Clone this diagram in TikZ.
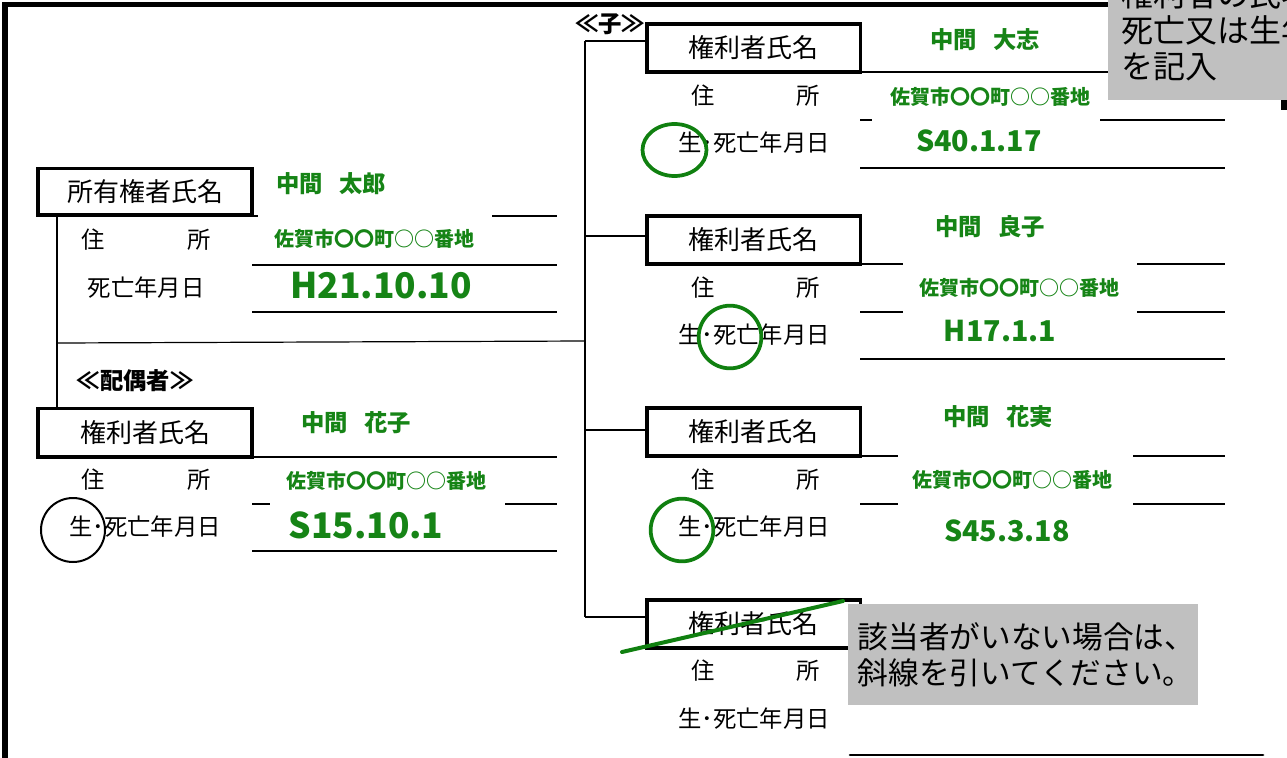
\documentclass[tikz,border=0pt]{standalone}
\usepackage{fontspec}
\setmainfont{Noto Sans CJK JP}
\definecolor{namegreen}{RGB}{22,132,22}
\definecolor{markgreen}{RGB}{16,128,16}
\definecolor{notegray}{RGB}{192,192,192}
\begin{document}
\begin{tikzpicture}[x=0.75pt,y=-0.75pt,
    namebox/.style={draw,line width=2.5pt,minimum width=160pt,minimum height=36pt,inner sep=0pt,font=\fontsize{19.5}{21}\selectfont},
    item/.style={inner sep=0pt,font=\fontsize{17.5}{19}\selectfont},
    val/.style={inner sep=0pt,text=namegreen,font=\bfseries\fontsize{17.5}{19}\selectfont},
    addr/.style={inner sep=0pt,text=namegreen,font=\bfseries\fontsize{15}{17}\selectfont},
    bigdate/.style={inner sep=0pt,text=namegreen,font=\bfseries\fontsize{26.5}{28}\selectfont},
    smalldate/.style={inner sep=0pt,text=namegreen,font=\bfseries\fontsize{21.5}{23}\selectfont},
    formline/.style={line width=0.9pt},
    frame/.style={line width=4pt},
    circlemark/.style={draw=markgreen,line width=2.8pt},
    notetext/.style={inner sep=0pt,align=left,font=\fontsize{23}{27}\selectfont}]
  \useasboundingbox (0,0) rectangle (1287,757);
  \clip (0,0) rectangle (1287,757);
  % outer frame
  \draw[frame] (5,760) -- (5,4.5) -- (1110,4.5);
  \draw[frame] (1284,100) -- (1284,110);
  % owner
  \node[namebox,minimum width=160.5pt,minimum height=35pt] (owner) at (145,191.5) {所有権者氏名};
  \node[val] (ownername) at (331,184) {中間\hspace{.7em}太郎};
  \node[item] (ownerju) at (93,240) {住};
  \node[item] (ownersho) at (199,240) {所};
  \node[addr] (owneraddr) at (374,239) {佐賀市〇〇町○○番地};
  \node[item] (ownerdd) at (146,288) {死亡年月日};
  \node[bigdate] (ownerdate) at (381,286) {H21.10.10};
  \draw[formline] (252,216) -- (258,216);
  \draw[formline] (492,216) -- (557,216);
  \draw[formline] (252,265) -- (557,265);
  \draw[formline] (252,312) -- (557,312);
  % spouse
  \node[inner sep=0pt,font=\bfseries\fontsize{17.5}{19}\selectfont] (spouselabel) at (135,381) {≪配偶者≫};
  \node[namebox,minimum width=160.5pt,minimum height=36.5pt] (spouse) at (145,432.5) {権利者氏名};
  \node[val] (spousename) at (356,423) {中間\hspace{.7em}花子};
  \node[item] (spouseju) at (93,480) {住};
  \node[item] (spousesho) at (199,480) {所};
  \node[addr] (spouseaddr) at (386,481) {佐賀市〇〇町○○番地};
  \node[item] (spousedd) at (145,527) {生･死亡年月日};
  \node[bigdate] (spousedate) at (366,525) {S15.10.1};
  \draw[line width=1.5pt] (73,530) circle [radius=24pt];
  \draw[formline] (252,457) -- (557,457);
  \draw[formline] (252,504) -- (270,504);
  \draw[formline] (505,504) -- (557,504);
  \draw[formline] (252,551) -- (557,551);
  % family lines
  \coordinate (ownerfoot) at (57,216);
  \coordinate (spousejoin) at (57,343);
  \coordinate (kidjoin) at (585,341);
  \coordinate (kidtop) at (585,41);
  \coordinate (kidbot) at (585,617);
  \coordinate (k2) at (585,236);
  \coordinate (k3) at (585,430);
  \draw[formline] (ownerfoot) -- (ownerfoot |- spouse.north);
  \draw[formline] (spousejoin) -- (kidjoin);
  \draw[formline] (kidtop) -- (kidbot);
  % children
  \node[inner sep=0pt,font=\bfseries\fontsize{17.5}{19}\selectfont] (kidlabel) at (610,24) {≪子≫};
  \node[namebox] (kid1) at (753.5,48) {権利者氏名};
  \node[namebox] (kid2) at (753.5,240) {権利者氏名};
  \node[namebox] (kid3) at (753.5,432) {権利者氏名};
  \node[namebox] (kid4) at (753.5,624) {権利者氏名};
  \draw[formline] (kidtop) -- (kidtop -| kid1.west);
  \draw[formline] (k2) -- (k2 -| kid2.west);
  \draw[formline] (k3) -- (k3 -| kid3.west);
  \draw[formline] (kidbot) -- (kidbot -| kid4.west);
  % child 1
  \node[val] (kid1name) at (985,40) {中間\hspace{.7em}大志};
  \node[item] (kid1ju) at (703,96) {住};
  \node[item] (kid1sho) at (808,96) {所};
  \node[addr] (kid1addr) at (990,97) {佐賀市〇〇町○○番地};
  \node[item] (kid1dd) at (754,143) {生･死亡年月日};
  \node[smalldate] (kid1date) at (979,141) {S40.1.17};
  \draw[circlemark] (674.5,150) ellipse [x radius=24pt,y radius=19.5pt];
  \draw[formline] (860,72) -- (1225,72);
  \draw[formline] (860,120) -- (872,120);
  \draw[formline] (1100,120) -- (1225,120);
  \draw[formline] (860,168) -- (1225,168);
  % child 2
  \node[val] (kid2name) at (990,227) {中間\hspace{.7em}良子};
  \node[item] (kid2ju) at (703,288) {住};
  \node[item] (kid2sho) at (808,288) {所};
  \node[addr] (kid2addr) at (1019,288) {佐賀市〇〇町○○番地};
  \node[item] (kid2dd) at (754,335) {生･死亡年月日};
  \node[smalldate] (kid2date) at (1000,331) {H17.1.1};
  \draw[circlemark] (730,337) circle [radius=23.5pt];
  \draw[formline] (860,264) -- (903,264);
  \draw[formline] (1137,264) -- (1225,264);
  \draw[formline] (860,312) -- (903,312);
  \draw[formline] (1137,312) -- (1225,312);
  \draw[formline] (860,359) -- (1225,359);
  % child 3
  \node[val] (kid3name) at (998,417) {中間\hspace{.7em}花実};
  \node[item] (kid3ju) at (703,480) {住};
  \node[item] (kid3sho) at (808,480) {所};
  \node[addr] (kid3addr) at (1012,480) {佐賀市〇〇町○○番地};
  \node[item] (kid3dd) at (754,527) {生･死亡年月日};
  \node[smalldate] (kid3date) at (1007,531) {S45.3.18};
  \draw[circlemark] (682,530) circle [radius=23.5pt];
  \draw[formline] (860,456) -- (898,456);
  \draw[formline] (1133,456) -- (1225,456);
  \draw[formline] (860,504) -- (898,504);
  \draw[formline] (1133,504) -- (1225,504);
  % child 4 (struck out)
  \node[item] (kid4ju) at (703,671) {住};
  \node[item] (kid4sho) at (808,671) {所};
  \node[item] (kid4dd) at (754,719) {生･死亡年月日};
  \draw[markgreen,line width=3pt,line cap=round] (622,652) -- (843,601);
  \node[fill=notegray,anchor=north west,minimum width=262.5pt,minimum height=75.75pt,text width=248pt,inner xsep=7.5pt,notetext] (note) at (848,604) {該当者がいない場合は、\\斜線を引いてください。};
  \draw[line width=2pt,line cap=round] (850,755) -- (1263,755);
  % hint box, top right
  \fill[notegray] (1108,-20) rectangle (1300,100);
  \node[notetext,anchor=base west,font=\fontsize{24}{27}\selectfont] (hint) at (1121,78) {権利者の氏名、\\死亡又は生年月日\\を記入};
\end{tikzpicture}
\end{document}
